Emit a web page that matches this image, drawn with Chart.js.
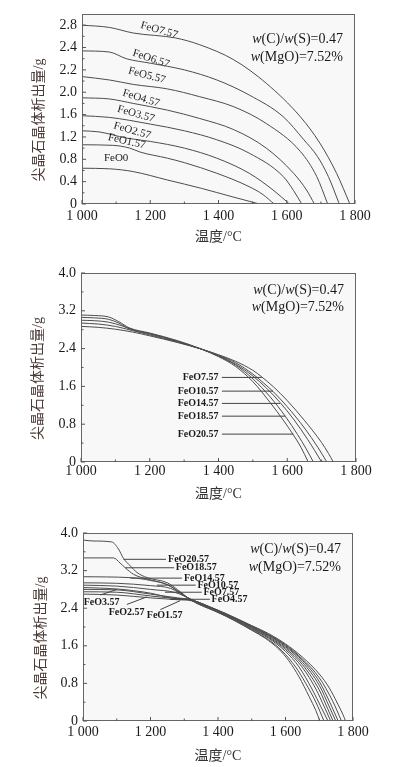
<!DOCTYPE html>
<html>
<head>
<meta charset="utf-8">
<script src="https://cdn.jsdelivr.net/npm/chart.js@4.4.1/dist/chart.umd.min.js"></script>
<style>
    body { margin: 0; background: #fff; }
    #wrap { position: relative; width: 398px; height: 767px; }
    canvas { position: absolute; left: 0; }
</style>
</head>
<body>
<div id="wrap">
    <canvas id="c1" width="398" height="250" style="top:0"></canvas>
    <canvas id="c2" width="398" height="260" style="top:250px"></canvas>
    <canvas id="c3" width="398" height="257" style="top:510px"></canvas>
</div>
<script>
// ---- figure 1 : FeO 0 .. 7.57 ----
const fig1Ticks = [0, 0.4, 0.8, 1.2, 1.6, 2.0, 2.2, 2.4, 2.8];
const fig1Names = ['FeO0', 'FeO1.57', 'FeO2.57', 'FeO3.57', 'FeO4.57', 'FeO5.57', 'FeO6.57', 'FeO7.57'];
const fig1_FeO0 = [[1000, 0.64], [1080, 0.63], [1150, 0.58], [1250, 0.43], [1350, 0.28], [1440, 0.13], [1520, 0]];
const fig1_FeO1 = [[1000, 1.06], [1090, 1.05], [1140, 1.00], [1170, 0.93], [1250, 0.82], [1300, 0.74], [1395, 0.55], [1490, 0.31], [1530, 0.17], [1563, 0]];
const fig1_FeO2 = [[1000, 1.31], [1050, 1.29], [1130, 1.18], [1200, 1.12], [1300, 1.00], [1395, 0.82], [1490, 0.55], [1560, 0.25], [1608, 0]];
const fig1_FeO3 = [[1000, 1.58], [1080, 1.55], [1200, 1.43], [1300, 1.31], [1395, 1.15], [1490, 0.91], [1590, 0.49], [1620, 0.24], [1644, 0]];
const fig1_FeO4 = [[1000, 1.90], [1080, 1.88], [1150, 1.80], [1250, 1.68], [1345, 1.53], [1445, 1.33], [1540, 1.00], [1620, 0.55], [1658, 0.25], [1681, 0]];
const fig1_FeO5 = [[1000, 2.14], [1080, 2.11], [1150, 2.07], [1250, 2.03], [1345, 1.92], [1445, 1.74], [1540, 1.44], [1640, 0.94], [1688, 0.49], [1720, 0]];
const fig1_FeO6 = [[1000, 2.37], [1080, 2.36], [1130, 2.30], [1200, 2.26], [1300, 2.20], [1395, 2.11], [1490, 1.95], [1590, 1.56], [1650, 1.15], [1690, 0.85], [1722, 0.49], [1754, 0]];
const fig1_FeO7 = [[1000, 2.80], [1080, 2.76], [1150, 2.66], [1275, 2.57], [1345, 2.45], [1445, 2.29], [1540, 2.08], [1640, 1.56], [1697, 1.09], [1746, 0.55], [1785, 0]];
const fig1LabelAt = [[1100, 0.82], [1131, 1.12], [1147, 1.31], [1158, 1.61], [1173, 1.89], [1190, 2.15], [1202, 2.30], [1226, 2.71]];
const fig1LabelAngle = [0, 13, 16, 16, 17, 15, 18, 16];

// ---- figure 2 : FeO 7.57 .. 20.57 ----
const fig2Ticks = [0, 0.8, 1.6, 2.4, 3.2, 4.0];
const fig2Names = ['FeO7.57', 'FeO10.57', 'FeO14.57', 'FeO18.57', 'FeO20.57'];
const fig2_FeO7 = [[1000, 2.87], [1050, 2.85], [1100, 2.81], [1150, 2.75], [1200, 2.67], [1280, 2.53], [1350, 2.39], [1400, 2.27], [1450, 2.13], [1500, 1.94], [1526, 1.80], [1560, 1.59], [1600, 1.30], [1650, 0.88], [1700, 0.41], [1720, 0.18], [1734, 0]];
const fig2_FeO10 = [[1000, 2.94], [1050, 2.92], [1100, 2.87], [1150, 2.78], [1200, 2.69], [1280, 2.54], [1350, 2.39], [1400, 2.26], [1450, 2.10], [1500, 1.86], [1530, 1.68], [1559, 1.49], [1600, 1.17], [1650, 0.72], [1690, 0.30], [1715, 0]];
const fig2_FeO14 = [[1000, 3.00], [1040, 2.99], [1080, 2.96], [1120, 2.88], [1150, 2.80], [1200, 2.71], [1280, 2.55], [1350, 2.39], [1400, 2.25], [1450, 2.07], [1500, 1.82], [1540, 1.56], [1579, 1.26], [1620, 0.89], [1660, 0.47], [1680, 0.24], [1700, 0]];
const fig2_FeO18 = [[1000, 3.06], [1040, 3.05], [1080, 3.02], [1110, 2.94], [1140, 2.82], [1200, 2.72], [1280, 2.56], [1350, 2.39], [1400, 2.24], [1450, 2.05], [1500, 1.76], [1550, 1.38], [1595, 0.96], [1630, 0.58], [1655, 0.28], [1676, 0]];
const fig2_FeO20 = [[1000, 3.11], [1040, 3.10], [1080, 3.07], [1110, 2.97], [1140, 2.84], [1200, 2.73], [1280, 2.57], [1350, 2.39], [1400, 2.23], [1450, 2.02], [1500, 1.70], [1550, 1.26], [1590, 0.87], [1618, 0.57], [1640, 0.31], [1661, 0]];
const fig2LeaderV = [1.79, 1.50, 1.24, 0.97, 0.59];
const fig2LeaderT = [1526, 1559, 1579, 1595, 1618];

// ---- figure 3 : FeO 1.57 .. 20.57 ----
const fig3Names = ['FeO1.57', 'FeO2.57', 'FeO3.57', 'FeO4.57', 'FeO7.57', 'FeO10.57', 'FeO14.57', 'FeO18.57', 'FeO20.57'];
const fig3_FeO1 = [[1000, 2.70], [1100, 2.68], [1200, 2.62], [1280, 2.58], [1320, 2.56], [1400, 2.36], [1450, 2.20], [1500, 2.03], [1550, 1.86], [1600, 1.64], [1650, 1.36], [1700, 1.00], [1730, 0.70], [1755, 0.36], [1770, 0.14], [1778, 0]];
const fig3_FeO2 = [[1000, 2.75], [1100, 2.74], [1200, 2.66], [1280, 2.60], [1320, 2.57], [1400, 2.35], [1450, 2.19], [1500, 2.02], [1550, 1.84], [1600, 1.62], [1650, 1.32], [1700, 0.92], [1740, 0.42], [1766, 0]];
const fig3_FeO3 = [[1000, 2.80], [1100, 2.79], [1200, 2.70], [1280, 2.62], [1320, 2.58], [1400, 2.35], [1450, 2.19], [1500, 2.01], [1550, 1.83], [1600, 1.60], [1650, 1.29], [1700, 0.84], [1735, 0.34], [1756, 0]];
const fig3_FeO4 = [[1000, 2.84], [1100, 2.81], [1200, 2.72], [1260, 2.62], [1320, 2.58], [1400, 2.34], [1450, 2.18], [1500, 2.00], [1550, 1.82], [1600, 1.58], [1650, 1.25], [1700, 0.76], [1730, 0.30], [1749, 0]];
const fig3_FeO7 = [[1000, 2.89], [1100, 2.87], [1200, 2.80], [1275, 2.73], [1320, 2.59], [1400, 2.33], [1450, 2.17], [1500, 1.99], [1550, 1.80], [1600, 1.55], [1650, 1.20], [1700, 0.66], [1725, 0.26], [1741, 0]];
const fig3_FeO10 = [[1000, 2.94], [1100, 2.93], [1200, 2.88], [1260, 2.82], [1300, 2.66], [1320, 2.59], [1400, 2.33], [1450, 2.16], [1500, 1.97], [1550, 1.78], [1600, 1.52], [1650, 1.14], [1690, 0.68], [1715, 0.30], [1734, 0]];
const fig3_FeO14 = [[1000, 3.07], [1140, 3.05], [1200, 2.99], [1250, 2.90], [1290, 2.72], [1320, 2.58], [1400, 2.32], [1450, 2.15], [1500, 1.96], [1550, 1.76], [1600, 1.48], [1640, 1.15], [1680, 0.66], [1705, 0.30], [1726, 0]];
const fig3_FeO18 = [[1000, 3.47], [1090, 3.47], [1110, 3.36], [1125, 3.26], [1150, 3.12], [1190, 3.02], [1250, 2.90], [1290, 2.72], [1320, 2.57], [1400, 2.31], [1450, 2.14], [1500, 1.94], [1550, 1.73], [1590, 1.49], [1630, 1.15], [1660, 0.80], [1690, 0.40], [1714, 0]];
const fig3_FeO20 = [[1000, 3.85], [1030, 3.83], [1085, 3.81], [1105, 3.66], [1120, 3.46], [1140, 3.30], [1160, 3.16], [1190, 3.05], [1250, 2.94], [1290, 2.74], [1320, 2.57], [1400, 2.31], [1450, 2.13], [1500, 1.93], [1540, 1.76], [1580, 1.53], [1610, 1.28], [1640, 0.94], [1670, 0.52], [1690, 0.22], [1702, 0]];
// text position, leader start, leader end
const fig3LabelAt = [[1189, 2.25], [1076, 2.32], [1002, 2.53], [1381, 2.59], [1357, 2.74], [1339, 2.89], [1299, 3.04], [1275, 3.26], [1252, 3.44]];
const fig3LeaderFrom = [[1229, 2.37], [1130, 2.48], [1051, 2.68], [1258, 2.59], [1243, 2.74], [1219, 2.89], [1140, 3.04], [1125, 3.26], [1120, 3.44]];
const fig3LeaderTo = [[1288, 2.56], [1189, 2.64], [1101, 2.80], [1376, 2.59], [1352, 2.74], [1334, 2.89], [1293, 3.04], [1270, 3.26], [1246, 3.44]];

const SERIF = '"Liberation Serif", "DejaVu Serif", serif';
const CJK = '"Liberation Serif", "Noto Sans CJK SC", sans-serif';
const LINE = '#4d4d4d';

// y axis of figure 1: evenly spaced ticks whose labels are not evenly spaced
function toIdx(v) {
    const t = fig1Ticks;
    for (let i = 1; i < t.length; i++)
        if (v <= t[i]) return i - 1 + (v - t[i - 1]) / (t[i] - t[i - 1]);
    const n = t.length - 1;
    return n + (v - t[n]) / (t[n] - t[n - 1]);
}
function fromIdx(k) {
    const t = fig1Ticks, n = t.length - 1;
    if (k >= n) return t[n] + (k - n) * (t[n] - t[n - 1]);
    const i = Math.max(0, Math.floor(k));
    return t[i] + (k - i) * (t[i + 1] - t[i]);
}
class StepScale extends Chart.LinearScale {
    getPixelForValue(value) {
        return this.getPixelForDecimal(toIdx(value) / toIdx(this.max));
    }
    getValueForPixel(pixel) {
        return fromIdx(this.getDecimalForPixel(pixel) * toIdx(this.max));
    }
}
StepScale.id = 'step';
StepScale.defaults = Chart.LinearScale.defaults;
Chart.register(StepScale);

function fmtT(v) {
    return String(v).replace(/\B(?=(\d{3})+(?!\d))/g, ' ');
}
function fmtV(v) {
    return v === 0 ? '0' : v.toFixed(1);
}

function makeDatasets(curves) {
    return curves.map(c => ({
        data: c.map(p => ({x: p[0], y: p[1]})),
        borderColor: LINE,
        borderWidth: 1,
        pointRadius: 0,
        fill: false,
        cubicInterpolationMode: 'monotone'
    }));
}

function midpoints(px, lo, hi) {
    let out = [];
    for (let i = 1; i < px.length; i++) out.push((px[i] + px[i - 1]) / 2);
    let step = px[px.length - 1] - px[px.length - 2];
    let extra = px[px.length - 1] + step / 2;
    if (extra > Math.min(lo, hi) && extra < Math.max(lo, hi)) out.push(extra);
    return out;
}

function drawNote(ctx, right, y) {
    let parts = [['w', true], ['(C)/', false], ['w', true], ['(S)=0.47', false]];
    let parts2 = [['w', true], ['(MgO)=7.52%', false]];
    [[parts, y[0]], [parts2, y[1]]].forEach(([p, yy]) => {
        let w = 0;
        p.forEach(s => {
            ctx.font = (s[1] ? 'italic ' : '') + '14px ' + SERIF;
            w += ctx.measureText(s[0]).width;
        });
        let x = right - w;
        p.forEach(s => {
            ctx.font = (s[1] ? 'italic ' : '') + '14px ' + SERIF;
            ctx.fillText(s[0], x, yy);
            x += ctx.measureText(s[0]).width;
        });
    });
}

const framePlugin = {
    id: 'frame',
    beforeDraw(chart) {
        const a = chart.chartArea, ctx = chart.ctx;
        ctx.save();
        ctx.fillStyle = '#f8f8f8';
        ctx.fillRect(a.left, a.top, a.right - a.left, a.bottom - a.top);
        ctx.restore();
    },
    afterDraw(chart, args, o) {
        const a = chart.chartArea, ctx = chart.ctx;
        const xs = chart.scales.x, ys = chart.scales.y;
        ctx.save();
        ctx.strokeStyle = '#666';
        ctx.lineWidth = 1;
        ctx.strokeRect(a.left + 0.5, a.top + 0.5, a.right - a.left - 1, a.bottom - a.top - 1);

        // inward tick marks
        ctx.strokeStyle = '#555';
        ctx.beginPath();
        let xp = xs.ticks.map((t, i) => xs.getPixelForTick(i));
        xp.forEach(p => { ctx.moveTo(p, a.bottom); ctx.lineTo(p, a.bottom - 4); });
        midpoints(xp, a.left, a.right).forEach(p => { ctx.moveTo(p, a.bottom); ctx.lineTo(p, a.bottom - 2.5); });
        let yp = ys.ticks.map((t, i) => ys.getPixelForTick(i));
        yp.forEach(p => { ctx.moveTo(a.left, p); ctx.lineTo(a.left + 4, p); });
        midpoints(yp, a.top, a.bottom).forEach(p => { ctx.moveTo(a.left, p); ctx.lineTo(a.left + 2.5, p); });
        ctx.stroke();

        // y title
        ctx.fillStyle = '#4a3b36';
        ctx.font = '14px ' + CJK;
        ctx.textAlign = 'center';
        ctx.textBaseline = 'middle';
        ctx.translate(o.yTitleX, (a.top + a.bottom) / 2 + 11);
        ctx.rotate(-Math.PI / 2);
        ctx.fillText('尖晶石晶体析出量/g', 0, 0);
        ctx.setTransform(1, 0, 0, 1, 0, 0);

        // condition note
        ctx.fillStyle = '#1a1a1a';
        ctx.textAlign = 'left';
        drawNote(ctx, a.right - 12, o.noteY);

        // leaders
        ctx.strokeStyle = '#444';
        ctx.beginPath();
        (o.leaders || []).forEach(l => {
            ctx.moveTo(xs.getPixelForValue(l[0][0]), ys.getPixelForValue(l[0][1]));
            ctx.lineTo(xs.getPixelForValue(l[1][0]), ys.getPixelForValue(l[1][1]));
        });
        ctx.stroke();

        // curve labels
        ctx.fillStyle = '#1a1a1a';
        (o.labels || []).forEach(l => {
            ctx.save();
            ctx.font = o.labelFont;
            ctx.textAlign = l.align;
            ctx.textBaseline = 'middle';
            ctx.translate(xs.getPixelForValue(l.at[0]), ys.getPixelForValue(l.at[1]));
            ctx.rotate((l.angle || 0) * Math.PI / 180);
            ctx.fillText(l.text, 0, 0);
            ctx.restore();
        });
        ctx.restore();
    }
};

function xScale(h, pad, titlePad) {
    return {
        type: 'linear', min: 1000, max: 1800,
        ticks: {stepSize: 200, padding: pad, color: '#1a1a1a', maxRotation: 0, autoSkip: false,
            font: {family: SERIF, size: 14}, callback: v => fmtT(v)},
        grid: {display: false, drawTicks: false},
        border: {display: false},
        title: {display: true, text: '温度/°C', color: '#333', font: {family: CJK, size: 14},
            padding: {top: 0, bottom: titlePad}},
        afterFit: s => { s.height = h; }
    };
}

function yScale(type, max, w, ticks) {
    return {
        type: type, min: 0, max: max,
        afterBuildTicks: s => { s.ticks = ticks.map(v => ({value: v})); },
        ticks: {padding: 5, color: '#1a1a1a', autoSkip: false, font: {family: SERIF, size: 14}, callback: v => fmtV(v)},
        grid: {display: false, drawTicks: false},
        border: {display: false},
        afterFit: s => { s.width = w; }
    };
}

function makeChart(id, curves, x, y, padding, frame) {
    return new Chart(document.getElementById(id), {
        type: 'line',
        data: {datasets: makeDatasets(curves)},
        options: {
            responsive: false,
            animation: false,
            events: [],
            layout: {padding: padding},
            plugins: {legend: {display: false}, tooltip: {enabled: false}, frame: frame},
            scales: {x: x, y: y}
        },
        plugins: [framePlugin]
    });
}

// figure 1
makeChart('c1',
    [fig1_FeO0, fig1_FeO1, fig1_FeO2, fig1_FeO3, fig1_FeO4, fig1_FeO5, fig1_FeO6, fig1_FeO7],
    xScale(42, 4, 0),
    yScale('step', 3.0, 52, fig1Ticks),
    {left: 30, right: 43, top: 14, bottom: 4},
    {
        yTitleX: 39, noteY: [39.5, 57],
        labelFont: '11px ' + SERIF,
        labels: fig1Names.map((n, i) => ({text: n, at: fig1LabelAt[i], angle: fig1LabelAngle[i], align: 'center'}))
    });

// figure 2
makeChart('c2',
    [fig2_FeO7, fig2_FeO10, fig2_FeO14, fig2_FeO18, fig2_FeO20],
    xScale(44, 1, 3),
    yScale('linear', 4.0, 51, fig2Ticks),
    {left: 30, right: 42, top: 23, bottom: 4},
    {
        yTitleX: 38, noteY: [40, 57],
        labelFont: 'bold 10px ' + SERIF,
        labels: fig2Names.map((n, i) => ({text: n, at: [1400, fig2LeaderV[i]], align: 'right'})),
        leaders: fig2Names.map((n, i) => [[1410, fig2LeaderV[i]], [fig2LeaderT[i], fig2LeaderV[i]]])
    });

// figure 3
makeChart('c3',
    [fig3_FeO1, fig3_FeO2, fig3_FeO3, fig3_FeO4, fig3_FeO7, fig3_FeO10, fig3_FeO14, fig3_FeO18, fig3_FeO20],
    xScale(44, 3, 0),
    yScale('linear', 4.0, 53, fig2Ticks),
    {left: 30, right: 45, top: 23, bottom: 2},
    {
        yTitleX: 41, noteY: [39.5, 57],
        labelFont: 'bold 10px ' + SERIF,
        labels: fig3Names.map((n, i) => ({text: n, at: fig3LabelAt[i], align: 'left'})),
        leaders: fig3Names.map((n, i) => [fig3LeaderFrom[i], fig3LeaderTo[i]])
    });
</script>
</body>
</html>
